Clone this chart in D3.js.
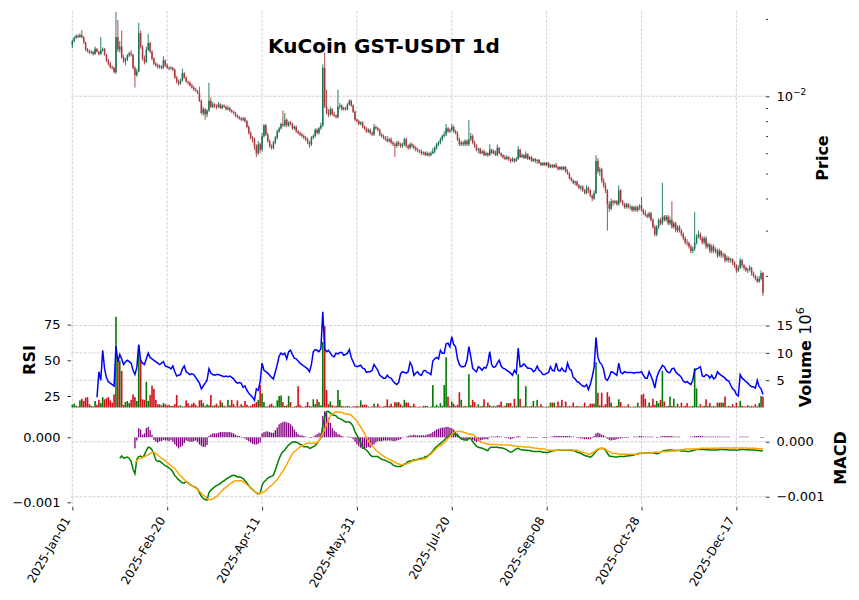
<!DOCTYPE html>
<html>
<head>
<meta charset="utf-8">
<script src="https://cdn.jsdelivr.net/npm/d3@7"></script>
<style>
  body { margin: 0; background: #fff; }
  text { font-family: "DejaVu Sans", sans-serif; }
</style>
</head>
<body>
<svg width="859" height="600"></svg>
<script>
// KuCoin GST-USDT daily candles, 2025-01-01 .. 2025-12-31
const startDate = "2025-01-01";
const tickLabels = ["2025-Jan-01", "2025-Feb-20", "2025-Apr-11", "2025-May-31",
                    "2025-Jul-20", "2025-Sep-08", "2025-Oct-28", "2025-Dec-17"];

// prices in 1e-3 USDT
const priceUnit = 1e-3;
const open = [
  15.8, 16.4, 16.9, 17.2, 17.0, 17.3, 17.0, 16.2, 15.2, 15.0,
  14.8, 14.9, 14.6, 15.3, 14.9, 14.6, 15.1, 15.3, 14.5, 13.8,
  13.4, 13.0, 12.9, 12.4, 17.0, 15.2, 15.6, 14.2, 13.7, 13.9,
  14.4, 14.7, 14.5, 12.9, 12.1, 12.5, 17.6, 15.6, 14.0, 13.6,
  15.2, 16.1, 14.9, 14.0, 13.4, 13.2, 13.0, 13.1, 12.9, 13.8,
  13.2, 12.9, 12.8, 12.9, 12.7, 11.8, 11.4, 11.2, 11.5, 12.3,
  11.8, 11.4, 11.3, 11.0, 10.8, 10.6, 10.5, 10.3, 9.6, 8.6,
  8.9, 8.5, 8.8, 9.6, 9.1, 9.3, 9.2, 9.1, 9.3, 9.0,
  9.2, 9.1, 8.9, 9.0, 8.8, 8.7, 8.6, 8.4, 8.3, 8.2,
  8.1, 8.2, 8.0, 7.6, 7.2, 6.9, 6.8, 6.4, 6.0, 6.5,
  6.2, 7.0, 7.7, 7.1, 6.7, 6.4, 6.3, 6.6, 6.9, 7.3,
  7.5, 7.8, 7.7, 8.1, 7.7, 7.9, 7.8, 7.5, 7.6, 7.3,
  7.2, 7.1, 7.0, 6.9, 6.8, 6.6, 6.5, 6.9, 7.0, 7.4,
  7.2, 7.5, 7.7, 12.9, 9.1, 8.6, 8.5, 8.9, 8.5, 8.4,
  8.3, 9.1, 9.2, 8.9, 9.0, 8.9, 9.3, 9.6, 9.2, 8.7,
  8.1, 8.0, 7.8, 7.9, 7.6, 7.5, 7.3, 7.4, 7.2, 7.1,
  7.6, 7.5, 7.4, 7.1, 7.0, 6.9, 6.8, 6.7, 6.8, 6.6,
  6.5, 6.4, 6.6, 6.5, 6.4, 6.5, 6.8, 6.4, 6.3, 6.5,
  6.4, 6.3, 6.2, 6.15, 6.1, 6.0, 6.05, 5.9, 6.0, 5.9,
  6.0, 6.1, 6.3, 6.5, 6.6, 6.8, 7.0, 7.1, 7.5, 7.3,
  7.4, 7.6, 7.3, 7.2, 6.8, 6.5, 6.6, 6.5, 6.7, 6.5,
  6.8, 7.0, 6.6, 6.4, 6.2, 6.25, 6.0, 6.1, 5.9, 6.0,
  5.9, 6.2, 6.0, 6.1, 5.9, 6.3, 6.0, 5.9, 5.8, 5.7,
  5.8, 5.7, 5.6, 5.7, 5.6, 5.7, 6.2, 5.8, 5.9, 5.75,
  5.95, 5.7, 5.8, 5.6, 5.7, 5.6, 5.65, 5.5, 5.4, 5.5,
  5.4, 5.5, 5.3, 5.4, 5.3, 5.4, 5.3, 5.2, 5.3, 5.2,
  5.3, 5.1, 5.0, 4.8, 4.7, 4.6, 4.65, 4.5, 4.4, 4.45,
  4.3, 4.2, 4.4, 4.3, 4.1, 4.0, 4.2, 5.6, 5.1, 5.2,
  4.7, 4.5, 4.3, 3.8, 3.65, 3.9, 3.85, 3.9, 3.8, 4.3,
  3.9, 3.8, 3.7, 3.8, 3.7, 3.72, 3.6, 3.7, 3.6, 3.7,
  3.75, 3.6, 3.5, 3.45, 3.4, 3.5, 3.3, 3.1, 2.9, 3.1,
  3.3, 3.2, 3.4, 3.3, 3.4, 3.2, 3.3, 3.1, 3.2, 3.0,
  3.1, 3.0, 2.9, 2.8, 2.7, 2.68, 2.6, 2.5, 2.55, 2.7,
  2.85, 2.9, 2.8, 2.7, 2.8, 2.6, 2.65, 2.5, 2.6, 2.5,
  2.52, 2.4, 2.5, 2.4, 2.42, 2.3, 2.35, 2.3, 2.32, 2.25,
  2.2, 2.1, 2.15, 2.3, 2.2, 2.15, 2.1, 2.12, 2.15, 2.05,
  2.0, 1.95, 1.9, 1.95, 2.05
];
const high = [
  16.6, 17.1, 17.4, 17.4, 17.6, 18.1, 17.1, 16.3, 15.4, 15.2,
  15.1, 15.0, 15.6, 15.4, 15.0, 17.0, 15.5, 15.4, 14.6, 14.0,
  13.6, 13.2, 13.0, 21.3, 19.8, 16.4, 18.0, 14.5, 14.1, 14.6,
  14.9, 15.1, 14.6, 13.1, 12.8, 19.3, 18.0, 15.8, 14.4, 15.6,
  17.5, 16.3, 15.1, 14.2, 13.6, 13.4, 13.3, 13.2, 14.3, 13.9,
  13.4, 13.1, 13.1, 13.0, 12.8, 12.0, 11.6, 11.7, 12.8, 12.4,
  12.0, 11.5, 11.4, 11.2, 11.0, 10.8, 10.6, 10.9, 9.7, 9.1,
  9.0, 8.9, 11.3, 9.9, 9.5, 9.4, 9.3, 9.5, 9.4, 9.3,
  9.3, 9.2, 9.2, 9.1, 8.9, 8.8, 8.7, 8.5, 8.4, 8.3,
  8.3, 8.3, 8.1, 7.7, 7.3, 7.0, 6.9, 6.5, 6.7, 6.6,
  7.2, 7.8, 7.8, 7.2, 6.8, 6.5, 6.7, 7.0, 7.4, 7.6,
  7.9, 8.8, 8.6, 8.2, 8.0, 8.0, 7.9, 7.7, 7.7, 7.4,
  7.3, 7.2, 7.1, 7.0, 6.9, 6.7, 7.0, 7.1, 7.5, 7.5,
  7.6, 7.9, 13.3, 14.8, 10.6, 8.9, 9.1, 9.0, 8.7, 8.5,
  10.6, 9.4, 9.3, 9.1, 9.1, 9.4, 9.7, 9.7, 9.3, 8.8,
  8.2, 8.1, 8.0, 8.0, 7.7, 7.6, 7.5, 7.5, 7.3, 7.8,
  7.7, 7.6, 7.5, 7.2, 7.1, 7.0, 7.0, 6.9, 6.9, 6.7,
  6.6, 6.7, 6.7, 6.6, 6.6, 6.9, 6.9, 6.5, 6.6, 6.6,
  6.5, 6.4, 6.3, 6.2, 6.2, 6.1, 6.1, 6.1, 6.05, 6.1,
  6.3, 6.4, 6.6, 6.7, 6.9, 7.1, 7.3, 7.8, 7.6, 7.5,
  7.8, 7.7, 7.4, 7.3, 6.9, 6.7, 6.7, 6.8, 6.8, 8.1,
  7.2, 7.1, 6.7, 6.5, 6.3, 6.3, 6.2, 6.2, 6.1, 6.05,
  6.5, 6.25, 6.2, 6.15, 6.5, 6.35, 6.05, 5.95, 5.9, 5.9,
  5.85, 5.75, 5.8, 5.75, 5.8, 6.4, 6.25, 6.0, 5.95, 6.1,
  6.0, 5.85, 5.85, 5.75, 5.75, 5.7, 5.7, 5.55, 5.55, 5.55,
  5.55, 5.55, 5.45, 5.45, 5.45, 5.5, 5.35, 5.35, 5.35, 5.35,
  5.35, 5.2, 5.05, 4.85, 4.75, 4.7, 4.7, 4.55, 4.5, 4.5,
  4.35, 4.5, 4.45, 4.35, 4.15, 4.3, 5.9, 5.75, 5.3, 5.25,
  4.8, 4.6, 4.35, 3.9, 4.0, 3.95, 3.95, 3.95, 4.5, 4.35,
  3.95, 3.85, 3.85, 3.85, 3.8, 3.75, 3.75, 3.75, 3.75, 3.8,
  4.05, 3.65, 3.6, 3.5, 3.55, 3.55, 3.35, 3.15, 3.15, 3.35,
  3.35, 4.6, 3.45, 3.45, 3.45, 3.4, 3.9, 3.25, 3.25, 3.15,
  3.15, 3.05, 2.95, 2.85, 2.78, 2.72, 2.65, 2.6, 3.55, 2.9,
  3.0, 2.95, 2.85, 2.85, 2.85, 2.7, 2.68, 2.65, 2.65, 2.58,
  2.55, 2.55, 2.52, 2.47, 2.45, 2.4, 2.38, 2.35, 2.34, 2.28,
  2.22, 2.2, 2.35, 2.32, 2.22, 2.18, 2.15, 2.2, 2.17, 2.08,
  2.02, 1.99, 2.0, 2.1, 2.07
];
const low = [
  15.4, 16.2, 16.7, 16.8, 16.9, 16.8, 16.0, 15.0, 14.8, 14.6,
  14.6, 14.4, 14.5, 14.8, 14.4, 14.5, 14.9, 14.4, 13.6, 13.2,
  12.8, 12.7, 12.3, 12.2, 14.9, 14.8, 14.0, 13.5, 13.2, 13.7,
  14.2, 14.3, 12.7, 10.8, 11.9, 12.4, 15.3, 13.8, 13.3, 13.5,
  15.0, 14.7, 13.8, 13.2, 13.0, 12.8, 12.8, 12.7, 12.8, 13.0,
  12.8, 12.6, 12.7, 12.5, 11.7, 11.2, 11.0, 11.1, 11.4, 11.7,
  11.3, 11.1, 10.9, 10.7, 10.5, 10.4, 10.2, 9.5, 8.5, 8.4,
  8.1, 8.3, 8.7, 9.0, 9.0, 9.0, 8.9, 9.0, 8.9, 8.9,
  9.0, 8.8, 8.8, 8.7, 8.6, 8.5, 8.3, 8.2, 8.1, 8.0,
  8.0, 7.9, 7.5, 7.1, 6.8, 6.6, 6.2, 5.8, 5.9, 6.0,
  6.1, 6.9, 7.0, 6.6, 6.3, 6.2, 6.2, 6.5, 6.8, 7.2,
  7.4, 7.6, 7.6, 7.6, 7.6, 7.7, 7.4, 7.4, 7.2, 7.1,
  7.0, 6.9, 6.8, 6.7, 6.5, 6.3, 6.4, 6.8, 6.9, 7.1,
  7.1, 7.4, 7.6, 9.0, 8.5, 8.3, 8.4, 8.4, 8.3, 8.2,
  8.2, 8.9, 8.8, 8.8, 8.8, 8.8, 9.2, 9.1, 8.6, 8.0,
  7.9, 7.7, 7.7, 7.5, 7.4, 7.2, 7.2, 7.1, 7.0, 7.0,
  7.4, 7.3, 7.0, 6.9, 6.8, 6.7, 6.6, 6.6, 6.5, 6.4,
  5.8, 6.3, 6.4, 6.3, 6.3, 6.4, 6.3, 6.2, 6.2, 6.3,
  6.2, 6.1, 6.05, 6.0, 5.9, 5.9, 5.85, 5.85, 5.8, 5.85,
  5.95, 6.0, 6.2, 6.4, 6.5, 6.7, 6.9, 7.0, 7.2, 7.2,
  7.3, 7.2, 7.1, 6.7, 6.4, 6.4, 6.4, 6.4, 6.4, 6.4,
  6.7, 6.5, 6.3, 6.1, 6.0, 5.95, 5.95, 5.85, 5.85, 5.8,
  5.85, 5.95, 5.95, 5.85, 5.85, 5.95, 5.8, 5.7, 5.65, 5.65,
  5.6, 5.5, 5.55, 5.5, 5.55, 5.65, 5.75, 5.75, 5.7, 5.7,
  5.65, 5.65, 5.55, 5.55, 5.5, 5.45, 5.45, 5.35, 5.35, 5.35,
  5.35, 5.25, 5.25, 5.25, 5.25, 5.25, 5.15, 5.15, 5.15, 5.15,
  5.05, 4.95, 4.75, 4.65, 4.55, 4.5, 4.45, 4.35, 4.3, 4.25,
  4.15, 4.15, 4.2, 4.05, 3.9, 3.95, 4.15, 5.0, 4.9, 4.6,
  4.4, 4.2, 3.0, 3.55, 3.6, 3.75, 3.8, 3.75, 3.75, 3.85,
  3.75, 3.65, 3.65, 3.65, 3.62, 3.55, 3.55, 3.55, 3.55, 3.6,
  3.55, 3.45, 3.4, 3.35, 3.35, 3.25, 3.05, 2.85, 2.85, 3.05,
  3.15, 3.15, 3.25, 3.25, 3.15, 3.15, 3.05, 3.05, 2.95, 2.95,
  2.95, 2.85, 2.75, 2.65, 2.62, 2.55, 2.45, 2.45, 2.5, 2.65,
  2.8, 2.75, 2.65, 2.65, 2.55, 2.55, 2.45, 2.45, 2.45, 2.45,
  2.35, 2.37, 2.35, 2.35, 2.25, 2.27, 2.25, 2.25, 2.2, 2.15,
  2.05, 2.07, 2.12, 2.15, 2.1, 2.07, 2.05, 2.08, 2.0, 1.97,
  1.92, 1.88, 1.88, 1.92, 1.67
];
const close = [
  16.4, 16.9, 17.2, 17.0, 17.3, 17.0, 16.2, 15.2, 15.0, 14.8,
  14.9, 14.6, 15.3, 14.9, 14.6, 15.1, 15.3, 14.5, 13.8, 13.4,
  13.0, 12.9, 12.4, 17.0, 15.2, 15.6, 14.2, 13.7, 13.9, 14.4,
  14.7, 14.5, 12.9, 12.1, 12.5, 17.6, 15.6, 14.0, 13.6, 15.2,
  16.1, 14.9, 14.0, 13.4, 13.2, 13.0, 13.1, 12.9, 13.8, 13.2,
  12.9, 12.8, 12.9, 12.7, 11.8, 11.4, 11.2, 11.5, 12.3, 11.8,
  11.4, 11.3, 11.0, 10.8, 10.6, 10.5, 10.3, 9.6, 8.6, 8.9,
  8.5, 8.8, 9.6, 9.1, 9.3, 9.2, 9.1, 9.3, 9.0, 9.2,
  9.1, 8.9, 9.0, 8.8, 8.7, 8.6, 8.4, 8.3, 8.2, 8.1,
  8.2, 8.0, 7.6, 7.2, 6.9, 6.8, 6.4, 6.0, 6.5, 6.2,
  7.0, 7.7, 7.1, 6.7, 6.4, 6.3, 6.6, 6.9, 7.3, 7.5,
  7.8, 7.7, 8.1, 7.7, 7.9, 7.8, 7.5, 7.6, 7.3, 7.2,
  7.1, 7.0, 6.9, 6.8, 6.6, 6.5, 6.9, 7.0, 7.4, 7.2,
  7.5, 7.7, 12.9, 9.1, 8.6, 8.5, 8.9, 8.5, 8.4, 8.3,
  9.1, 9.2, 8.9, 9.0, 8.9, 9.3, 9.6, 9.2, 8.7, 8.1,
  8.0, 7.8, 7.9, 7.6, 7.5, 7.3, 7.4, 7.2, 7.1, 7.6,
  7.5, 7.4, 7.1, 7.0, 6.9, 6.8, 6.7, 6.8, 6.6, 6.5,
  6.4, 6.6, 6.5, 6.4, 6.5, 6.8, 6.4, 6.3, 6.5, 6.4,
  6.3, 6.2, 6.15, 6.1, 6.0, 6.05, 5.9, 6.0, 5.9, 6.0,
  6.1, 6.3, 6.5, 6.6, 6.8, 7.0, 7.1, 7.5, 7.3, 7.4,
  7.6, 7.3, 7.2, 6.8, 6.5, 6.6, 6.5, 6.7, 6.5, 6.8,
  7.0, 6.6, 6.4, 6.2, 6.25, 6.0, 6.1, 5.9, 6.0, 5.9,
  6.2, 6.0, 6.1, 5.9, 6.3, 6.0, 5.9, 5.8, 5.7, 5.8,
  5.7, 5.6, 5.7, 5.6, 5.7, 6.2, 5.8, 5.9, 5.75, 5.95,
  5.7, 5.8, 5.6, 5.7, 5.6, 5.65, 5.5, 5.4, 5.5, 5.4,
  5.5, 5.3, 5.4, 5.3, 5.4, 5.3, 5.2, 5.3, 5.2, 5.3,
  5.1, 5.0, 4.8, 4.7, 4.6, 4.65, 4.5, 4.4, 4.45, 4.3,
  4.2, 4.4, 4.3, 4.1, 4.0, 4.2, 5.6, 5.1, 5.2, 4.7,
  4.5, 4.3, 3.8, 3.65, 3.9, 3.85, 3.9, 3.8, 4.3, 3.9,
  3.8, 3.7, 3.8, 3.7, 3.72, 3.6, 3.7, 3.6, 3.7, 3.75,
  3.6, 3.5, 3.45, 3.4, 3.5, 3.3, 3.1, 2.9, 3.1, 3.3,
  3.2, 3.4, 3.3, 3.4, 3.2, 3.3, 3.1, 3.2, 3.0, 3.1,
  3.0, 2.9, 2.8, 2.7, 2.68, 2.6, 2.5, 2.55, 2.7, 2.85,
  2.9, 2.8, 2.7, 2.8, 2.6, 2.65, 2.5, 2.6, 2.5, 2.52,
  2.4, 2.5, 2.4, 2.42, 2.3, 2.35, 2.3, 2.32, 2.25, 2.2,
  2.1, 2.15, 2.3, 2.2, 2.15, 2.1, 2.12, 2.15, 2.05, 2.0,
  1.95, 1.9, 1.95, 2.05, 1.72
];

// volume in millions
const volume = [
  0.5, 0.7, 0.3, 0.2, 1.3, 1.6, 1.2, 1.8, 1.9, 0.6,
  0.3, 0.2, 1.2, 0.5, 1.4, 0.8, 1.9, 1.5, 1.7, 1.9,
  1.3, 0.9, 2.4, 16.6, 8.7, 8.6, 6.7, 0.5, 1.0, 1.2,
  0.8, 1.4, 2.4, 1.9, 1.2, 11.4, 8.7, 1.5, 1.4, 4.7,
  1.2, 2.3, 4.0, 3.4, 1.4, 0.6, 0.6, 0.4, 0.8, 0.6,
  0.4, 0.5, 0.3, 0.3, 0.6, 2.3, 0.3, 0.4, 0.2, 0.2,
  1.3, 0.8, 0.3, 0.6, 0.9, 0.5, 0.2, 1.3, 1.4, 0.8,
  0.3, 0.6, 0.4, 2.3, 0.3, 0.4, 0.7, 0.3, 1.3, 0.9,
  0.3, 0.2, 1.4, 0.4, 1.4, 0.6, 0.2, 1.3, 0.2, 0.6,
  0.3, 1.2, 0.5, 0.2, 0.3, 0.6, 0.7, 1.0, 1.4, 4.1,
  2.6, 1.0, 0.2, 0.2, 0.5, 0.7, 0.3, 0.2, 1.3, 2.1,
  2.2, 1.0, 0.3, 0.4, 2.1, 1.0, 0.1, 0.2, 0.3, 3.9,
  0.5, 0.2, 0.1, 0.3, 1.0, 0.3, 0.2, 1.5, 0.6, 1.5,
  1.0, 0.4, 12.0, 14.9, 3.2, 0.6, 1.1, 0.4, 0.2, 0.3,
  3.2, 1.4, 0.3, 0.2, 0.2, 0.3, 0.2, 0.1, 0.2, 0.2,
  0.3, 0.2, 1.3, 0.5, 0.5, 0.5, 0.2, 0.1, 0.2, 0.7,
  0.2, 0.7, 0.2, 0.1, 0.2, 0.3, 1.5, 0.3, 0.7, 0.2,
  1.0, 0.9, 1.0, 0.6, 0.3, 1.4, 0.9, 0.9, 0.3, 0.2,
  0.7, 0.2, 0.1, 0.2, 0.1, 0.3, 0.3, 0.3, 0.1, 0.2,
  4.1, 0.2, 0.5, 0.2, 0.8, 0.3, 4.1, 9.2, 2.0, 0.3,
  1.1, 0.7, 0.3, 0.5, 2.8, 1.4, 0.2, 0.3, 0.2, 6.1,
  0.4, 1.4, 1.0, 0.2, 0.6, 0.2, 0.3, 1.5, 0.2, 0.9,
  0.4, 0.2, 0.3, 0.2, 0.4, 0.5, 1.1, 0.2, 0.3, 0.8,
  0.8, 0.8, 0.2, 1.6, 0.3, 6.1, 1.6, 0.2, 0.3, 3.9,
  0.2, 0.2, 0.3, 1.2, 0.2, 1.4, 0.2, 0.6, 0.2, 0.1,
  0.2, 0.2, 0.9, 0.9, 0.9, 0.2, 1.1, 0.3, 1.4, 0.2,
  1.1, 0.2, 0.3, 0.2, 0.9, 0.2, 0.3, 0.2, 0.2, 0.2,
  0.9, 0.2, 0.3, 0.7, 0.7, 0.7, 8.3, 2.7, 0.4, 2.7,
  0.3, 0.6, 2.8, 2.0, 0.9, 0.2, 0.2, 0.3, 1.5, 1.0,
  0.2, 0.2, 0.2, 0.6, 0.2, 0.1, 0.2, 0.2, 0.9, 0.2,
  2.3, 2.5, 1.6, 0.2, 0.9, 0.3, 1.6, 0.5, 1.2, 0.8,
  1.4, 6.7, 1.1, 0.2, 0.3, 2.0, 0.3, 1.6, 0.2, 0.7,
  0.2, 0.9, 0.2, 0.3, 0.8, 0.2, 0.2, 0.3, 7.2, 3.5,
  0.2, 0.6, 0.2, 0.3, 1.5, 0.3, 0.8, 0.2, 0.3, 0.2,
  0.9, 0.9, 0.9, 0.9, 2.0, 0.2, 0.3, 0.2, 0.6, 0.2,
  0.9, 0.2, 1.2, 0.3, 0.2, 0.2, 0.4, 0.2, 0.3, 0.2,
  0.6, 0.2, 0.8, 2.1, 2.0
];

// RSI(14), first value on day 13
const rsiStart = 13;
const rsi = [
  24, 42, 36, 57, 44, 38, 35, 34, 33, 32,
  60, 49, 54, 51, 47, 49, 50, 49, 48, 43,
  40, 45, 61, 50, 48, 47, 51, 55, 52, 51,
  50, 49, 48, 47, 48, 49, 46, 45.5, 45, 44,
  46, 42, 39, 39.5, 40, 44, 46, 42, 41, 40,
  40.5, 40, 38, 36, 34, 30, 32, 34, 36, 44,
  41, 40, 39.5, 40, 40, 39.5, 39, 38.5, 39, 38.5,
  39, 38, 37, 35, 34, 34.5, 34, 31, 32, 29,
  27, 25.5, 24, 22, 30, 29, 35, 48, 43, 42,
  41, 39.5, 38, 37, 42, 47, 53, 55, 54, 55,
  51, 56, 57, 54, 51.5, 51, 49.5, 48, 47, 46,
  45, 44, 42, 47, 56, 57.5, 57, 56, 58, 84,
  58, 56, 57, 55, 53, 52.5, 55, 54.5, 55.5, 55.5,
  53.5, 54, 55, 57.5, 52, 49, 46, 45.5, 46, 46.5,
  44.5, 44, 41.5, 42, 42, 43, 47, 45, 43, 39.5,
  38.5, 37.5, 37.5, 39.5, 38, 37.5, 35.5, 34, 33, 34.5,
  40.5, 42, 41.5, 41, 42, 48.5, 46, 39.5, 41, 42,
  40, 39.5, 42.5, 43, 41.5, 41, 40, 49.5, 51, 52,
  51, 57, 55, 55, 61.5, 62, 59.5, 66.5, 61, 59.5,
  51, 47, 45.5, 45.5, 46, 50, 59.5, 52.5, 44.5, 43,
  42, 45.5, 44.5, 43, 45, 44.5, 48, 56, 47, 45,
  45.5, 48, 50, 46, 44.5, 44, 43, 42, 41, 39.5,
  43, 41, 58.5, 45.5, 46, 47.5, 46, 44.5, 44.5, 44,
  42, 43, 46, 43, 42, 40, 40, 41, 41.5, 45.5,
  43, 42.5, 48, 43, 42.5, 44.5, 42.5, 42, 48, 44,
  43, 38, 37, 35, 34.5, 33, 32, 31.5, 33, 29.5,
  33, 38.5, 45, 66, 52, 48.5, 47, 43.5, 37, 36,
  38.5, 42, 41.5, 40.5, 39.5, 48, 41.5, 40.5, 42, 41.5,
  41.5, 41.5, 41.5, 41, 41.5, 41.5, 41.5, 42, 39.5, 37.5,
  37.5, 42, 39, 35.5, 30.5, 38, 41.5, 44, 46.5, 45.5,
  43, 41.5, 41.5, 44, 44.5, 42, 40.5, 39.5, 38, 35.5,
  34.5, 35, 34, 33, 36, 43, 44, 44.5, 45.5, 39,
  38.5, 40, 39.5, 37.5, 39.5, 37, 38, 42, 40.5, 39.5,
  38.5, 37.5, 36, 35.5, 32.5, 30, 29, 26, 25, 40,
  37.5, 36.5, 35, 34, 32.5, 31.5, 31.5, 30.5, 36, 31.5,
  30, 26
];

// MACD line (x1e-3), first value on day 25
const macdStart = 25;
const macd = [
  -0.30, -0.26, -0.30, -0.29, -0.28, -0.30, -0.36, -0.50, -0.58, -0.32,
  -0.27, -0.26, -0.29, -0.24, -0.16, -0.10, -0.11, -0.15, -0.22, -0.33,
  -0.36, -0.35, -0.38, -0.41, -0.44, -0.45, -0.48, -0.50, -0.55, -0.62,
  -0.65, -0.69, -0.72, -0.75, -0.75, -0.73, -0.75, -0.78, -0.80, -0.82,
  -0.83, -0.86, -0.93, -0.99, -1.03, -1.05, -1.06, -0.93, -0.88, -0.85,
  -0.82, -0.80, -0.78, -0.76, -0.73, -0.71, -0.68, -0.66, -0.64, -0.62,
  -0.61, -0.62, -0.64, -0.64, -0.65, -0.67, -0.71, -0.75, -0.80, -0.84,
  -0.87, -0.90, -0.93, -0.95, -0.94, -0.79, -0.73, -0.70, -0.66, -0.64,
  -0.63, -0.61, -0.51, -0.41, -0.31, -0.23, -0.18, -0.15, -0.10, -0.06,
  -0.03, -0.01, 0.00, -0.01, -0.02, -0.05, -0.06, -0.09, -0.09, -0.09,
  -0.12, -0.11, -0.09, -0.07, -0.03, 0.02, 0.07, 0.30, 0.45, 0.55,
  0.55, 0.52, 0.49, 0.48, 0.47, 0.43, 0.42, 0.40, 0.38, 0.36,
  0.36, 0.36, 0.33, 0.28, 0.18, 0.12, 0.06, -0.03, -0.10, -0.13,
  -0.15, -0.19, -0.24, -0.27, -0.27, -0.27, -0.27, -0.30, -0.32, -0.33,
  -0.34, -0.36, -0.37, -0.39, -0.42, -0.44, -0.45, -0.45, -0.45, -0.43,
  -0.41, -0.39, -0.36, -0.35, -0.35, -0.33, -0.33, -0.32, -0.31, -0.30,
  -0.30, -0.27, -0.27, -0.24, -0.21, -0.17, -0.12, -0.09, -0.06, -0.03,
  0.00, 0.03, 0.07, 0.08, 0.12, 0.15, 0.14, 0.13, 0.12, 0.08,
  0.05, 0.04, 0.03, 0.03, 0.06, 0.06, 0.00, -0.04, -0.08, -0.10,
  -0.11, -0.12, -0.13, -0.15, -0.16, -0.11, -0.10, -0.10, -0.10, -0.10,
  -0.11, -0.11, -0.12, -0.13, -0.15, -0.17, -0.19, -0.18, -0.15, -0.13,
  -0.12, -0.14, -0.15, -0.15, -0.15, -0.16, -0.16, -0.17, -0.18, -0.18,
  -0.18, -0.18, -0.18, -0.19, -0.19, -0.20, -0.19, -0.18, -0.17, -0.16,
  -0.16, -0.15, -0.15, -0.15, -0.15, -0.15, -0.15, -0.15, -0.16, -0.16,
  -0.17, -0.19, -0.20, -0.21, -0.23, -0.25, -0.26, -0.27, -0.28, -0.26,
  -0.22, -0.18, -0.14, -0.13, -0.12, -0.13, -0.15, -0.21, -0.26, -0.27,
  -0.27, -0.28, -0.28, -0.27, -0.27, -0.27, -0.27, -0.26, -0.26, -0.25,
  -0.25, -0.24, -0.23, -0.22, -0.21, -0.21, -0.21, -0.20, -0.20, -0.20,
  -0.20, -0.20, -0.21, -0.22, -0.21, -0.19, -0.17, -0.16, -0.16, -0.15,
  -0.15, -0.15, -0.16, -0.16, -0.16, -0.16, -0.17, -0.17, -0.17, -0.18,
  -0.18, -0.17, -0.16, -0.15, -0.14, -0.14, -0.14, -0.14, -0.14, -0.145,
  -0.145, -0.15, -0.15, -0.15, -0.15, -0.15, -0.14, -0.14, -0.14, -0.145,
  -0.145, -0.15, -0.15, -0.15, -0.15, -0.155, -0.15, -0.14, -0.14, -0.14,
  -0.145, -0.145, -0.15, -0.15, -0.15, -0.155, -0.16, -0.16, -0.165, -0.17
];

// signal line and histogram (x1e-3, left axis), first value on day 33
const signalStart = 33;
const signal = [
  -0.39, -0.36, -0.33, -0.32, -0.31, -0.30, -0.28, -0.27, -0.25, -0.23,
  -0.23, -0.25, -0.27, -0.30, -0.32, -0.34, -0.36, -0.39, -0.41, -0.44,
  -0.46, -0.48, -0.52, -0.56, -0.59, -0.62, -0.65, -0.68, -0.70, -0.72,
  -0.74, -0.76, -0.78, -0.80, -0.83, -0.86, -0.89, -0.91, -0.94, -0.96,
  -0.96, -0.95, -0.93, -0.91, -0.88, -0.85, -0.82, -0.79, -0.77, -0.74,
  -0.72, -0.70, -0.68, -0.67, -0.67, -0.67, -0.67, -0.68, -0.70, -0.73,
  -0.75, -0.78, -0.80, -0.83, -0.85, -0.86, -0.86, -0.85, -0.84, -0.82,
  -0.79, -0.76, -0.74, -0.71, -0.68, -0.65, -0.61, -0.56, -0.52, -0.47,
  -0.42, -0.36, -0.31, -0.25, -0.22, -0.20, -0.17, -0.15, -0.13, -0.12,
  -0.10, -0.09, -0.09, -0.09, -0.09, -0.09, -0.08, -0.05, 0.00, 0.06,
  0.12, 0.19, 0.26, 0.33, 0.36, 0.38, 0.39, 0.39, 0.39, 0.38,
  0.37, 0.36, 0.36, 0.35, 0.34, 0.31, 0.28, 0.25, 0.20, 0.16,
  0.11, 0.06, 0.00, -0.05, -0.10, -0.13, -0.16, -0.20, -0.22, -0.25,
  -0.27, -0.29, -0.31, -0.32, -0.34, -0.35, -0.37, -0.38, -0.40, -0.41,
  -0.42, -0.42, -0.41, -0.41, -0.40, -0.39, -0.37, -0.36, -0.35, -0.35,
  -0.34, -0.34, -0.33, -0.33, -0.31, -0.28, -0.26, -0.23, -0.20, -0.17,
  -0.14, -0.13, -0.11, -0.08, -0.05, -0.02, 0.01, 0.04, 0.07, 0.09,
  0.09, 0.09, 0.09, 0.08, 0.07, 0.06, 0.05, 0.05, 0.04, 0.02,
  0.00, -0.04, -0.07, -0.08, -0.09, -0.10, -0.10, -0.11, -0.11, -0.11,
  -0.11, -0.11, -0.12, -0.12, -0.12, -0.12, -0.12, -0.12, -0.12, -0.13,
  -0.13, -0.14, -0.14, -0.14, -0.14, -0.15, -0.15, -0.15, -0.15, -0.16,
  -0.16, -0.17, -0.17, -0.18, -0.18, -0.18, -0.18, -0.20, -0.20, -0.20,
  -0.20, -0.20, -0.20, -0.20, -0.19, -0.19, -0.19, -0.19, -0.19, -0.19,
  -0.19, -0.20, -0.20, -0.20, -0.21, -0.22, -0.23, -0.24, -0.25, -0.26,
  -0.26, -0.24, -0.22, -0.20, -0.18, -0.17, -0.17, -0.17, -0.18, -0.21,
  -0.22, -0.24, -0.25, -0.25, -0.25, -0.26, -0.26, -0.26, -0.26, -0.26,
  -0.26, -0.26, -0.26, -0.26, -0.26, -0.26, -0.25, -0.25, -0.24, -0.24,
  -0.24, -0.24, -0.24, -0.23, -0.23, -0.23, -0.23, -0.23, -0.22, -0.22,
  -0.22, -0.22, -0.21, -0.21, -0.21, -0.21, -0.20, -0.20, -0.19, -0.19,
  -0.18, -0.18, -0.18, -0.18, -0.18, -0.18, -0.18, -0.18, -0.17, -0.17,
  -0.17, -0.17, -0.17, -0.17, -0.17, -0.17, -0.17, -0.17, -0.165, -0.165,
  -0.165, -0.165, -0.165, -0.165, -0.165, -0.165, -0.165, -0.165, -0.165, -0.165,
  -0.165, -0.165, -0.165, -0.17, -0.17, -0.17, -0.17, -0.17, -0.175, -0.175,
  -0.175, -0.18
];
const hist = [
  -0.17, -0.05, 0.14, 0.12, 0.04, 0.06, 0.14, 0.16, 0.11, 0.04,
  -0.04, -0.07, -0.08, -0.06, -0.06, -0.04, -0.05, -0.05, -0.06, -0.04,
  -0.07, -0.11, -0.14, -0.17, -0.15, -0.13, -0.09, -0.05, -0.06, -0.07,
  -0.07, -0.06, -0.05, -0.07, -0.11, -0.13, -0.15, -0.15, -0.12, 0.02,
  0.04, 0.06, 0.06, 0.06, 0.07, 0.08, 0.08, 0.08, 0.08, 0.08,
  0.08, 0.07, 0.06, 0.04, 0.02, 0.02, 0.01, -0.01, -0.02, -0.04,
  -0.06, -0.08, -0.10, -0.11, -0.11, -0.10, -0.08, 0.06, 0.08, 0.09,
  0.09, 0.08, 0.07, 0.07, 0.11, 0.15, 0.20, 0.22, 0.24, 0.24,
  0.23, 0.22, 0.20, 0.17, 0.12, 0.08, 0.05, 0.03, 0.03, 0.02,
  0.01, 0.00, -0.01, -0.01, 0.01, 0.03, 0.05, 0.07, 0.06, 0.33,
  0.40, 0.38, 0.30, 0.22, 0.14, 0.10, 0.08, 0.05, 0.04, 0.02,
  0.01, 0.00, 0.01, 0.01, -0.01, -0.03, -0.07, -0.11, -0.14, -0.16,
  -0.18, -0.18, -0.16, -0.15, -0.16, -0.14, -0.11, -0.08, -0.06, -0.06,
  -0.06, -0.05, -0.05, -0.05, -0.05, -0.05, -0.06, -0.06, -0.05, -0.04,
  -0.03, -0.01, 0.00, 0.01, 0.02, 0.03, 0.03, 0.04, 0.03, 0.03,
  0.03, 0.03, 0.03, 0.03, 0.04, 0.05, 0.06, 0.08, 0.10, 0.12,
  0.13, 0.14, 0.15, 0.15, 0.16, 0.16, 0.15, 0.14, 0.12, 0.09,
  0.06, 0.02, -0.02, -0.03, -0.04, -0.05, -0.02, -0.01, -0.04, -0.06,
  -0.07, -0.06, -0.05, -0.04, -0.03, -0.03, -0.03, 0.01, 0.01, 0.01,
  0.01, 0.02, 0.01, 0.01, 0.00, -0.01, -0.01, -0.02, -0.03, -0.02,
  -0.01, 0.01, 0.02, 0.01, 0.00, 0.00, 0.00, -0.01, -0.01, -0.01,
  -0.01, -0.01, -0.01, 0.00, 0.00, -0.01, -0.01, -0.01, 0.00, 0.01,
  0.01, 0.02, 0.02, 0.02, 0.02, 0.02, 0.02, 0.02, 0.02, 0.02,
  0.01, 0.01, 0.00, -0.01, -0.01, -0.02, -0.02, -0.03, -0.03, -0.03,
  -0.03, -0.01, 0.02, 0.06, 0.07, 0.06, 0.04, 0.03, 0.01, -0.02,
  -0.04, -0.05, -0.04, -0.04, -0.03, -0.02, -0.02, -0.01, -0.01, -0.01,
  -0.01, 0.00, 0.00, 0.01, 0.01, 0.01, 0.02, 0.02, 0.01, 0.01,
  0.01, 0.01, 0.01, 0.01, 0.00, -0.01, 0.00, 0.01, 0.02, 0.02,
  0.02, 0.02, 0.02, 0.02, 0.01, 0.01, 0.01, 0.01, 0.00, 0.00,
  0.00, 0.00, 0.00, 0.01, 0.01, 0.02, 0.02, 0.02, 0.02, 0.02,
  0.01, 0.01, 0.01, 0.01, 0.01, 0.01, 0.01, 0.01, 0.01, 0.01,
  0.01, 0.01, 0.01, 0.01, 0.00, 0.00, 0.00, 0.00, 0.00, 0.01,
  0.01, 0.01, 0.01, 0.01, 0.00, 0.00, 0.00, 0.00, 0.00, 0.00,
  -0.01, -0.01
];

const upColor = "#006340", downColor = "#a02128";
const volUp = "#007a00", volDown = "#d50d18";
const gridColor = "#c8c8c8";

const svg = d3.select("svg");
svg.append("rect").attr("width", 859).attr("height", 600).attr("fill", "#fff");

// panel geometry
const left = 71, right = 766;
const pTop = 11, pBot = 305;       // price
const vTop = 307, vBot = 407.5;    // volume + RSI
const mTop = 409, mBot = 507;      // MACD

const x = d3.scaleLinear().domain([-0.7, 365.6]).range([left, right]);
const yPrice = d3.scaleLog().domain([1.54e-3, 21.47e-3]).range([pBot, pTop]);
const yVol = d3.scaleLinear().domain([0, 18.4]).range([vBot, vTop]);
const yRsi = d3.scaleLinear().domain([16.95, 87.3]).range([vBot, vTop]);
const yMacdR = d3.scaleLinear().domain([-1.187, 0.595]).range([mBot, mTop]);
const yMacdL = d3.scaleLinear().domain([-1.072, 0.435]).range([mBot, mTop]);

const parseTick = d3.timeParse("%Y-%b-%d");
const day0 = d3.timeParse("%Y-%m-%d")(startDate);
const tickIdx = tickLabels.map(s => d3.timeDay.count(day0, parseTick(s)));

// grid
const grid = svg.append("g")
    .attr("stroke", gridColor)
    .attr("stroke-width", 0.8)
    .attr("stroke-dasharray", "3,1.3");
tickIdx.forEach(i => grid.append("line")
    .attr("x1", x(i)).attr("x2", x(i)).attr("y1", pTop).attr("y2", mBot));
const hGrid = [yPrice(0.01), yVol(5), yVol(10), yVol(15), yMacdR(0), yMacdR(-1)];
hGrid.forEach(y => grid.append("line")
    .attr("x1", left).attr("x2", right).attr("y1", y).attr("y2", y));

// candles
const idx = d3.range(close.length);
const isUp = i => close[i] > open[i];
const candles = svg.append("g").attr("opacity", 0.9);
candles.selectAll("line")
    .data(idx).enter().append("line")
    .attr("x1", i => x(i)).attr("x2", i => x(i))
    .attr("y1", i => yPrice(high[i] * priceUnit))
    .attr("y2", i => yPrice(low[i] * priceUnit))
    .attr("stroke", i => isUp(i) ? upColor : downColor)
    .attr("stroke-width", 0.9);
candles.selectAll("rect")
    .data(idx).enter().append("rect")
    .attr("x", i => x(i) - 0.75)
    .attr("width", 1.5)
    .attr("y", i => yPrice(Math.max(open[i], close[i]) * priceUnit))
    .attr("height", i => Math.max(0.8,
        yPrice(Math.min(open[i], close[i]) * priceUnit) - yPrice(Math.max(open[i], close[i]) * priceUnit)))
    .attr("fill", i => isUp(i) ? upColor : downColor);

// volume bars
svg.append("g").selectAll("rect")
    .data(idx).enter().append("rect")
    .attr("x", i => x(i) - 0.8)
    .attr("width", 1.6)
    .attr("y", i => yVol(volume[i]))
    .attr("height", i => yVol(0) - yVol(volume[i]))
    .attr("fill", i => isUp(i) ? volUp : volDown);

// RSI line
svg.append("path")
    .datum(rsi)
    .attr("fill", "none")
    .attr("stroke", "#0000ff")
    .attr("stroke-width", 1.5)
    .attr("d", d3.line().x((d, i) => x(i + rsiStart)).y(d => yRsi(d)));

// MACD histogram
svg.append("g").selectAll("rect")
    .data(hist).enter().append("rect")
    .attr("x", (d, i) => x(i + signalStart) - 0.65)
    .attr("width", 1.3)
    .attr("y", d => Math.min(yMacdL(d), yMacdL(0)))
    .attr("height", d => Math.abs(yMacdL(d) - yMacdL(0)))
    .attr("fill", "#800080");

// MACD and signal
svg.append("path")
    .datum(macd)
    .attr("fill", "none")
    .attr("stroke", "#008000")
    .attr("stroke-width", 1.5)
    .attr("d", d3.line().x((d, i) => x(i + macdStart)).y(d => yMacdR(d)));
svg.append("path")
    .datum(signal)
    .attr("fill", "none")
    .attr("stroke", "#ffa500")
    .attr("stroke-width", 1.5)
    .attr("d", d3.line().x((d, i) => x(i + signalStart)).y(d => yMacdL(d)));

// axes
function styleAxis(g) {
  g.select(".domain").remove();
  g.selectAll(".tick line").attr("stroke", "#000").attr("stroke-width", 0.8);
  g.selectAll("text").attr("font-size", 13).attr("fill", "#000")
      .attr("font-family", "DejaVu Sans");
}

// price (log) axis on the right
const minorTicks = [2e-3, 3e-3, 4e-3, 5e-3, 6e-3, 7e-3, 8e-3, 9e-3, 2e-2];
svg.append("g").attr("transform", `translate(${right},0)`)
    .call(d3.axisRight(yPrice).tickValues(minorTicks).tickSize(2).tickFormat(""))
    .call(styleAxis);
const pMajor = svg.append("g").attr("transform", `translate(${right},0)`)
    .call(d3.axisRight(yPrice).tickValues([1e-2]).tickSize(3.5).tickPadding(7).tickFormat(() => ""))
    .call(styleAxis);
pMajor.selectAll(".tick text").each(function () {
  const t = d3.select(this);
  t.append("tspan").text("10");
  t.append("tspan").text("\u22122").attr("font-size", 9).attr("dy", -6);
});

// volume axis (right)
svg.append("g").attr("transform", `translate(${right},0)`)
    .call(d3.axisRight(yVol).tickValues([5, 10, 15]).tickSize(3.5).tickPadding(7).tickFormat(d3.format("d")))
    .call(styleAxis);
// RSI axis (left)
svg.append("g").attr("transform", `translate(${left},0)`)
    .call(d3.axisLeft(yRsi).tickValues([25, 50, 75]).tickSize(3.5).tickPadding(7).tickFormat(d3.format("d")))
    .call(styleAxis);

// MACD axes
const fmtMacd = d => d3.format(".3f")(d / 1000);
svg.append("g").attr("transform", `translate(${right},0)`)
    .call(d3.axisRight(yMacdR).tickValues([0, -1]).tickSize(3.5).tickPadding(7).tickFormat(fmtMacd))
    .call(styleAxis);
svg.append("g").attr("transform", `translate(${left},0)`)
    .call(d3.axisLeft(yMacdL).tickValues([0, -1]).tickSize(3.5).tickPadding(7).tickFormat(fmtMacd))
    .call(styleAxis);

// date axis
const xAxis = svg.append("g").attr("transform", `translate(0,${mBot})`)
    .call(d3.axisBottom(x).tickValues(tickIdx).tickSize(3.5).tickFormat((d, i) => tickLabels[i]))
    .call(styleAxis);
xAxis.selectAll(".tick text")
    .attr("y", 0).attr("dy", 0)
    .attr("font-size", 12)
    .attr("text-anchor", "end")
    .attr("transform", "translate(-2,13) rotate(-60)");

// labels
svg.append("text")
    .attr("x", 384).attr("y", 53)
    .attr("text-anchor", "middle")
    .attr("font-size", 20).attr("font-weight", "bold")
    .text("KuCoin GST-USDT 1d");

function vLabel(xp, yp, txt) {
  return svg.append("text")
      .attr("transform", `translate(${xp},${yp}) rotate(-90)`)
      .attr("text-anchor", "middle")
      .attr("font-size", 16).attr("font-weight", "bold")
      .text(txt);
}
vLabel(828, (pTop + pBot) / 2, "Price");
vLabel(846, (mTop + mBot) / 2, "MACD");
vLabel(35, 360, "RSI");
const volLabel = vLabel(811, (vTop + vBot) / 2, "Volume  ");
volLabel.append("tspan").attr("font-weight", "normal").text("10");
volLabel.append("tspan").attr("font-weight", "normal").attr("font-size", 11).attr("dy", -7).text("6");
</script>
</body>
</html>
